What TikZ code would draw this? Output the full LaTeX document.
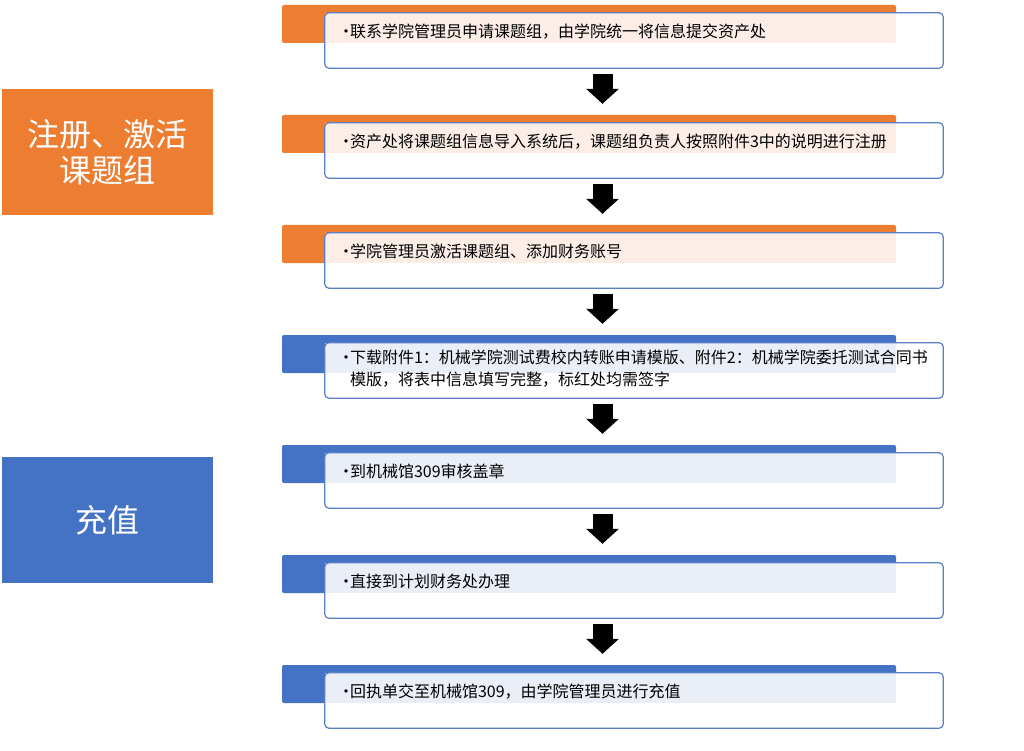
\documentclass[tikz,border=0pt]{standalone}
\usepackage{fontspec}
\setmainfont{Noto Sans CJK SC}
\usetikzlibrary{calc,arrows.meta}
\definecolor{cOr}{HTML}{ED7D31}
\definecolor{cBl}{HTML}{4472C4}
\definecolor{tOr}{HTML}{FCEEE7}
\definecolor{tBl}{HTML}{E9EEF7}
\definecolor{cBd}{HTML}{5B7FC4}
\newcommand{\bul}{\makebox[15pt][l]{\hspace{3pt}•}}
\begin{document}
\begin{tikzpicture}[x=1pt,y=-1pt,
 bar/.style={rectangle,rounded corners=2pt,minimum width=614pt,minimum height=38pt,inner sep=0pt,fill=#1},
 stepbox/.style={rectangle,minimum width=618pt,minimum height=55pt,inner sep=0pt,fill=white},
 steptext/.style={anchor=west,inner sep=0pt,font=\fontsize{16}{22}\selectfont,align=left},
 flow/.style={line width=20pt,-{Triangle[width=32pt,length=15pt]}},
 side/.style={rectangle,minimum width=211pt,minimum height=126pt,fill=#1,text=white,font=\fontsize{32}{36}\selectfont,align=center,inner sep=0pt}]
\useasboundingbox (0,0) rectangle (1024,751);
\fill[white] (0,0) rectangle (1024,751);
\foreach \i/\c/\t in {1/cOr/tOr,2/cOr/tOr,3/cOr/tOr,4/cBl/tBl,5/cBl/tBl,6/cBl/tBl,7/cBl/tBl}{
 \node[bar=\c] (bar\i) at (589,{24+110*(\i-1)}) {};
 \node[stepbox] (box\i) at (634,{40.5+110*(\i-1)}) {};
 \fill[\t] (box\i.north west) rectangle (bar\i.south east);
 \draw[cBd,line width=1.2pt,rounded corners=4pt] (box\i.north west) rectangle (box\i.south east);
}
\coordinate (ax) at (602.5,0);
\foreach \i [count=\j from 2] in {1,...,6}{
 \draw[flow] ($(box\i.south -| ax)+(0,6)$) -- ($(bar\j.north -| ax)+(0,-11)$);
}
\node[steptext] (t1) at ($(box1.north west)+(10,18.5)$) {\bul 联系学院管理员申请课题组，由学院统一将信息提交资产处};
\node[steptext] (t2) at ($(box2.north west)+(10,18.5)$) {\bul 资产处将课题组信息导入系统后，课题组负责人按照附件3中的说明进行注册};
\node[steptext] (t3) at ($(box3.north west)+(10,18.5)$) {\bul 学院管理员激活课题组、添加财务账号};
\node[steptext] (t4) at ($(box4.north west)+(10,25.5)$) {\bul 下载附件1：机械学院测试费校内转账申请模版、附件2：机械学院委托测试合同书\\\hspace*{15pt}模版，将表中信息填写完整，标红处均需签字};
\node[steptext] (t5) at ($(box5.north west)+(10,18.5)$) {\bul 到机械馆309审核盖章};
\node[steptext] (t6) at ($(box6.north west)+(10,18.5)$) {\bul 直接到计划财务处办理};
\node[steptext] (t7) at ($(box7.north west)+(10,18.5)$) {\bul 回执单交至机械馆309，由学院管理员进行充值};
\node[side=cOr] (reg) at (107.5,152) {注册、激活\\课题组};
\node[side=cBl] (chg) at (107.5,520) {充值};
\end{tikzpicture}
\end{document}
